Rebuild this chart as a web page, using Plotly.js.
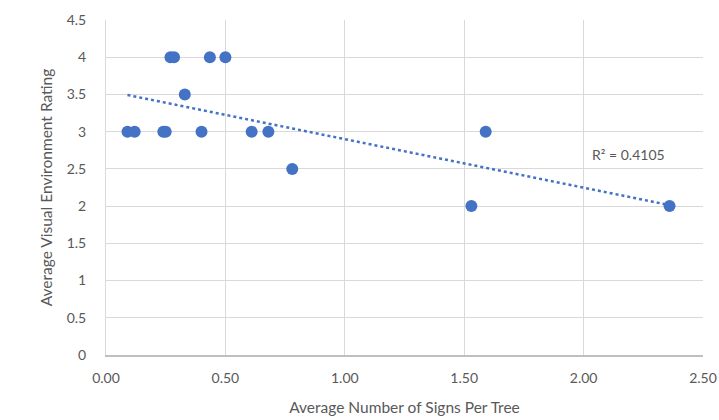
<!DOCTYPE html>
<html><head><meta charset="utf-8">
<script src="https://cdn.plot.ly/plotly-3.0.1.min.js"></script>
<style>html,body{margin:0;padding:0;background:#fff}#c{width:719px;height:420px}</style>
</head><body><div id="c"></div>
<script>
const signsPerTree = [0.09, 0.12, 0.24, 0.25, 0.27, 0.285, 0.33, 0.40, 0.435, 0.50, 0.61, 0.68, 0.78, 1.53, 1.59, 2.36];
const visualRating = [3, 3, 3, 3, 4, 4, 3.5, 3, 4, 4, 3, 3, 2.5, 2, 3, 2];
const r2Label = "R² = 0.4105";
const xTickVals = [0, 0.5, 1, 1.5, 2, 2.5];
const yTickVals = [0, 0.5, 1, 1.5, 2, 2.5, 3, 3.5, 4, 4.5];

// least squares trendline computed from the data
const n = signsPerTree.length;
const mx = signsPerTree.reduce((a,b)=>a+b,0)/n;
const my = visualRating.reduce((a,b)=>a+b,0)/n;
let sxy=0, sxx=0;
for (let i=0;i<n;i++){ sxy+=(signsPerTree[i]-mx)*(visualRating[i]-my); sxx+=(signsPerTree[i]-mx)**2; }
const slope = sxy/sxx, icpt = my - slope*mx;
const xmin = Math.min(...signsPerTree), xmax = Math.max(...signsPerTree);
const trendX = [xmin, xmax];
const trendY = trendX.map(x => icpt + slope*x);

const blue = '#4472C4';
const grey = '#595959';
const font = "Lato, 'Open Sans', sans-serif";

Plotly.newPlot('c', [
  {x: trendX, y: trendY, mode: 'lines', line: {color: blue, width: 2.5, dash: 'dot'}, hoverinfo: 'skip', showlegend: false},
  {x: signsPerTree, y: visualRating, mode: 'markers', marker: {color: blue, size: 12}, showlegend: false}
], {
  width: 719, height: 420,
  margin: {l: 106, r: 16, t: 20, b: 65},
  paper_bgcolor: '#fff', plot_bgcolor: '#fff',
  font: {family: font, color: grey, size: 14},
  xaxis: {
    range: [0, 2.5], tickvals: xTickVals, ticktext: xTickVals.map(v => v.toFixed(2)),
    showgrid: true, gridcolor: '#D9D9D9', gridwidth: 1,
    zeroline: false, showline: true, linecolor: '#BFBFBF', linewidth: 1.5,
    ticks: '', tickfont: {size: 14, color: grey}, ticklabelstandoff: 10,
    title: {text: 'Average Number of Signs Per Tree', font: {size: 15.5, color: grey}, standoff: 17}
  },
  yaxis: {
    range: [0, 4.5], tickvals: yTickVals, ticktext: yTickVals.map(v => String(v)),
    showgrid: true, gridcolor: '#D9D9D9', gridwidth: 1,
    zeroline: false, showline: true, linecolor: '#D9D9D9', linewidth: 1,
    ticks: '', tickfont: {size: 14, color: grey}, ticklabelstandoff: 16,
    title: {text: 'Average Visual Environment Rating', font: {size: 15.5, color: grey}, standoff: 10}
  },
  annotations: [{x: 2.19, y: 2.69, xref: 'x', yref: 'y', text: r2Label, showarrow: false,
    font: {size: 14, color: grey, family: font}}]
}, {displayModeBar: false, staticPlot: true});
</script></body></html>
